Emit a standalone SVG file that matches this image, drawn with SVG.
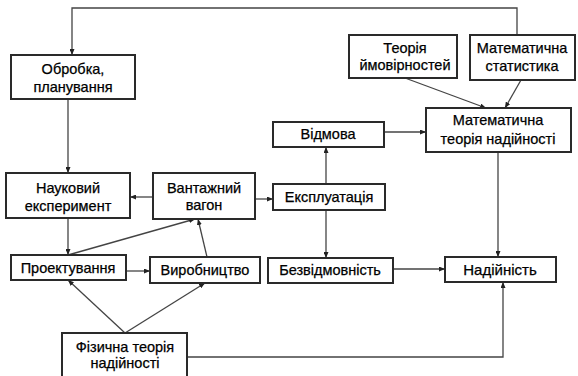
<svg xmlns="http://www.w3.org/2000/svg" width="578" height="376" viewBox="0 0 578 376">
<style>
.box{fill:#fff;stroke:#2a2a2a;stroke-width:2}
.t{font-family:"Liberation Sans",Arial,sans-serif;font-size:14.5px;fill:#000;stroke:#000;stroke-width:0.25;text-anchor:middle}
.c{fill:none;stroke:#444;stroke-width:1.3}
</style>
<defs>
<marker id="ah" markerUnits="userSpaceOnUse" markerWidth="7" markerHeight="5" refX="6" refY="2.5" orient="auto">
<path d="M0,0 L6,2.5 L0,5 z" fill="#222"/>
</marker>
</defs>
<rect width="578" height="376" fill="#fff"/>
<g id="connectors">
<path class="c" d="M517,35 V8 H72 V55" marker-end="url(#ah)"/>
<path class="c" d="M68,99 V173" marker-end="url(#ah)"/>
<path class="c" d="M68,218 V255" marker-end="url(#ah)"/>
<path class="c" d="M153,197 H130" marker-end="url(#ah)"/>
<path class="c" d="M255,199 H273" marker-end="url(#ah)"/>
<path class="c" d="M68,255 L195,219" marker-end="url(#ah)"/>
<path class="c" d="M207,257 L198,219" marker-end="url(#ah)"/>
<path class="c" d="M126,271 H150" marker-end="url(#ah)"/>
<path class="c" d="M125,333 L68,280" marker-end="url(#ah)"/>
<path class="c" d="M125,333 L205,283" marker-end="url(#ah)"/>
<path class="c" d="M187,357 H503 V282" marker-end="url(#ah)"/>
<path class="c" d="M326,184 V147" marker-end="url(#ah)"/>
<path class="c" d="M326,210 V258" marker-end="url(#ah)"/>
<path class="c" d="M384,132 H426" marker-end="url(#ah)"/>
<path class="c" d="M405,78 L486,108" marker-end="url(#ah)"/>
<path class="c" d="M521,80 L505,108" marker-end="url(#ah)"/>
<path class="c" d="M498,152 V257" marker-end="url(#ah)"/>
<path class="c" d="M393,269 H445" marker-end="url(#ah)"/>
</g>
<g id="obrobka"><rect class="box" x="11" y="55" width="124" height="44"/><text class="t" x="73" y="74">Обробка,</text><text class="t" x="73" y="92">планування</text></g>
<g id="naukovyi"><rect class="box" x="6" y="173" width="124" height="45"/><text class="t" x="68" y="193">Науковий</text><text class="t" x="68" y="211">експеримент</text></g>
<g id="vantazhnyi"><rect class="box" x="153" y="173" width="102" height="46"/><text class="t" x="204" y="193">Вантажний</text><text class="t" x="204" y="210">вагон</text></g>
<g id="ekspluatatsiia"><rect class="box" x="273" y="184" width="112" height="26"/><text class="t" x="329" y="202">Експлуатація</text></g>
<g id="vidmova"><rect class="box" x="273" y="122" width="111" height="25"/><text class="t" x="328" y="139">Відмова</text></g>
<g id="teoriia"><rect class="box" x="349" y="35" width="108" height="43"/><text class="t" x="405" y="53">Теорія</text><text class="t" x="405" y="70">ймовірностей</text></g>
<g id="matstat"><rect class="box" x="470" y="35" width="105" height="45"/><text class="t" x="522" y="53">Математична</text><text class="t" x="522" y="71">статистика</text></g>
<g id="mtn"><rect class="box" x="426" y="108" width="145" height="44"/><text class="t" x="498" y="125">Математична</text><text class="t" x="498" y="144">теорія надійності</text></g>
<g id="proektuvannia"><rect class="box" x="11" y="255" width="115" height="25"/><text class="t" x="68" y="273">Проектування</text></g>
<g id="vyrobnytstvo"><rect class="box" x="150" y="257" width="110" height="26"/><text class="t" x="205" y="275">Виробництво</text></g>
<g id="bezvidmovnist"><rect class="box" x="268" y="258" width="125" height="25"/><text class="t" x="330" y="275">Безвідмовність</text></g>
<g id="nadiinist"><rect class="box" x="445" y="257" width="111" height="25"/><text class="t" x="500" y="275" style="font-size:15px">Надійність</text></g>
<g id="fizychna"><rect class="box" x="62" y="333" width="125" height="50"/><text class="t" x="125" y="352">Фізична теорія</text><text class="t" x="125" y="368">надійності</text></g>
</svg>
